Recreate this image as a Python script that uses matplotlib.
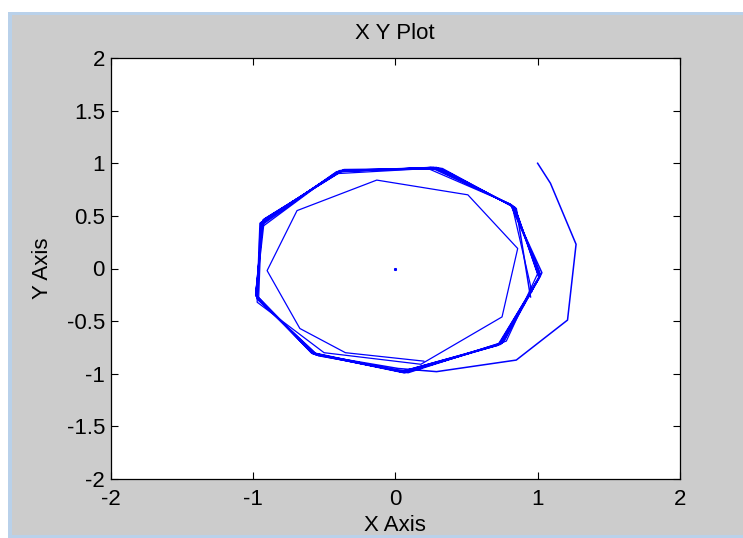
import matplotlib
matplotlib.use("Agg")
import matplotlib.pyplot as plt
from matplotlib.patches import Rectangle

plt.rcParams['font.family'] = ['Liberation Sans', 'DejaVu Sans']

# trajectory starting outside the cycle at (1, 1)
outer_x = [1.00, 1.09, 1.27, 1.21, 0.85, 0.29, 0.02, -0.55, -0.97, -0.94, -0.41, 0.25,
           0.81, 1.03, 0.76, 0.09, -0.56, -0.97, -0.95, -0.40, 0.27, 0.82, 1.02, 0.75,
           0.07, -0.57, -0.97, -0.94, -0.39, 0.29, 0.83, 1.02, 0.74, 0.06, -0.58, -0.98,
           -0.93, -0.38, 0.31, 0.84, 1.01, 0.73, 0.05, -0.58, -0.98, -0.93, -0.37, 0.32,
           0.84, 1.01, 0.72, 0.04, -0.59, -0.98, -0.92, -0.36, 0.33, 0.85, 0.95]
outer_y = [1.00, 0.81, 0.23, -0.49, -0.87, -0.98, -0.95, -0.82, -0.29, 0.42, 0.92, 0.96,
           0.61, -0.04, -0.70, -0.99, -0.82, -0.28, 0.43, 0.92, 0.96, 0.60, -0.06, -0.71,
           -0.99, -0.81, -0.27, 0.44, 0.93, 0.96, 0.59, -0.07, -0.72, -0.99, -0.81, -0.26,
           0.45, 0.93, 0.95, 0.58, -0.08, -0.72, -0.98, -0.80, -0.25, 0.46, 0.93, 0.95,
           0.58, -0.09, -0.73, -0.98, -0.80, -0.25, 0.47, 0.94, 0.95, 0.57, -0.27]

# trajectory starting inside the cycle
inner_x = [0.20, -0.35, -0.67, -0.90, -0.69, -0.13, 0.51, 0.86, 0.75, 0.18, -0.50,
           -0.97, -0.95, -0.43, 0.23, 0.81, 1.01, 0.78, 0.10, -0.54, -0.96, -0.94,
           -0.41, 0.26, 0.82, 0.96]
inner_y = [-0.88, -0.80, -0.57, -0.02, 0.55, 0.84, 0.70, 0.19, -0.46, -0.91, -0.80,
           -0.32, 0.38, 0.90, 0.95, 0.61, -0.02, -0.69, -0.98, -0.83, -0.30, 0.41,
           0.92, 0.96, 0.60, -0.22]

# equilibrium
eq_x = [0.0]
eq_y = [0.0]

x_ticks = [-2, -1, 0, 1, 2]
y_ticks = [-2, -1.5, -1, -0.5, 0, 0.5, 1, 1.5, 2]
y_labels = ['-2', '-1.5', '-1', '-0.5', '0', '0.5', '1', '1.5', '2']

W, H = 743, 538
fig = plt.figure(figsize=(W / 100, H / 100), dpi=100, facecolor='white')
# window frame: light blue border and grey figure area
fig.patches.append(Rectangle((8 / W, 0), 1, 1 - 12 / H, transform=fig.transFigure,
                             facecolor='#b9d1ea', edgecolor='none', zorder=-3))
fig.patches.append(Rectangle((12 / W, 3 / H), 1, 1 - 18 / H, transform=fig.transFigure,
                             facecolor='#cccccc', edgecolor='none', zorder=-2))

ax = fig.add_axes([110.5 / W, 1 - 479 / H, (680 - 110.5) / W, (479 - 58) / H])
ax.plot(outer_x, outer_y, color='blue', lw=1.1)
ax.plot(inner_x, inner_y, color='blue', lw=0.9)
ax.plot(eq_x, eq_y, marker='s', ms=1.2, color='blue', ls='none')

ax.set_xlim(-2, 2)
ax.set_ylim(-2, 2)
ax.set_xticks(x_ticks)
ax.set_yticks(y_ticks)
ax.set_xticklabels([str(t) for t in x_ticks])
ax.set_yticklabels(y_labels)
ax.tick_params(direction='in', length=5, width=0.8, top=True, right=True,
               labelsize=16)
ax.tick_params(axis='x', pad=7)
ax.tick_params(axis='y', pad=4)
for s in ax.spines.values():
    s.set_linewidth(0.9)

ax.set_title('X Y Plot', fontsize=16, pad=14)
ax.set_xlabel('X Axis', fontsize=16, labelpad=4)
ax.set_ylabel('Y Axis', fontsize=16, labelpad=10)

fig.savefig('out.png', dpi=100, facecolor=fig.get_facecolor())
